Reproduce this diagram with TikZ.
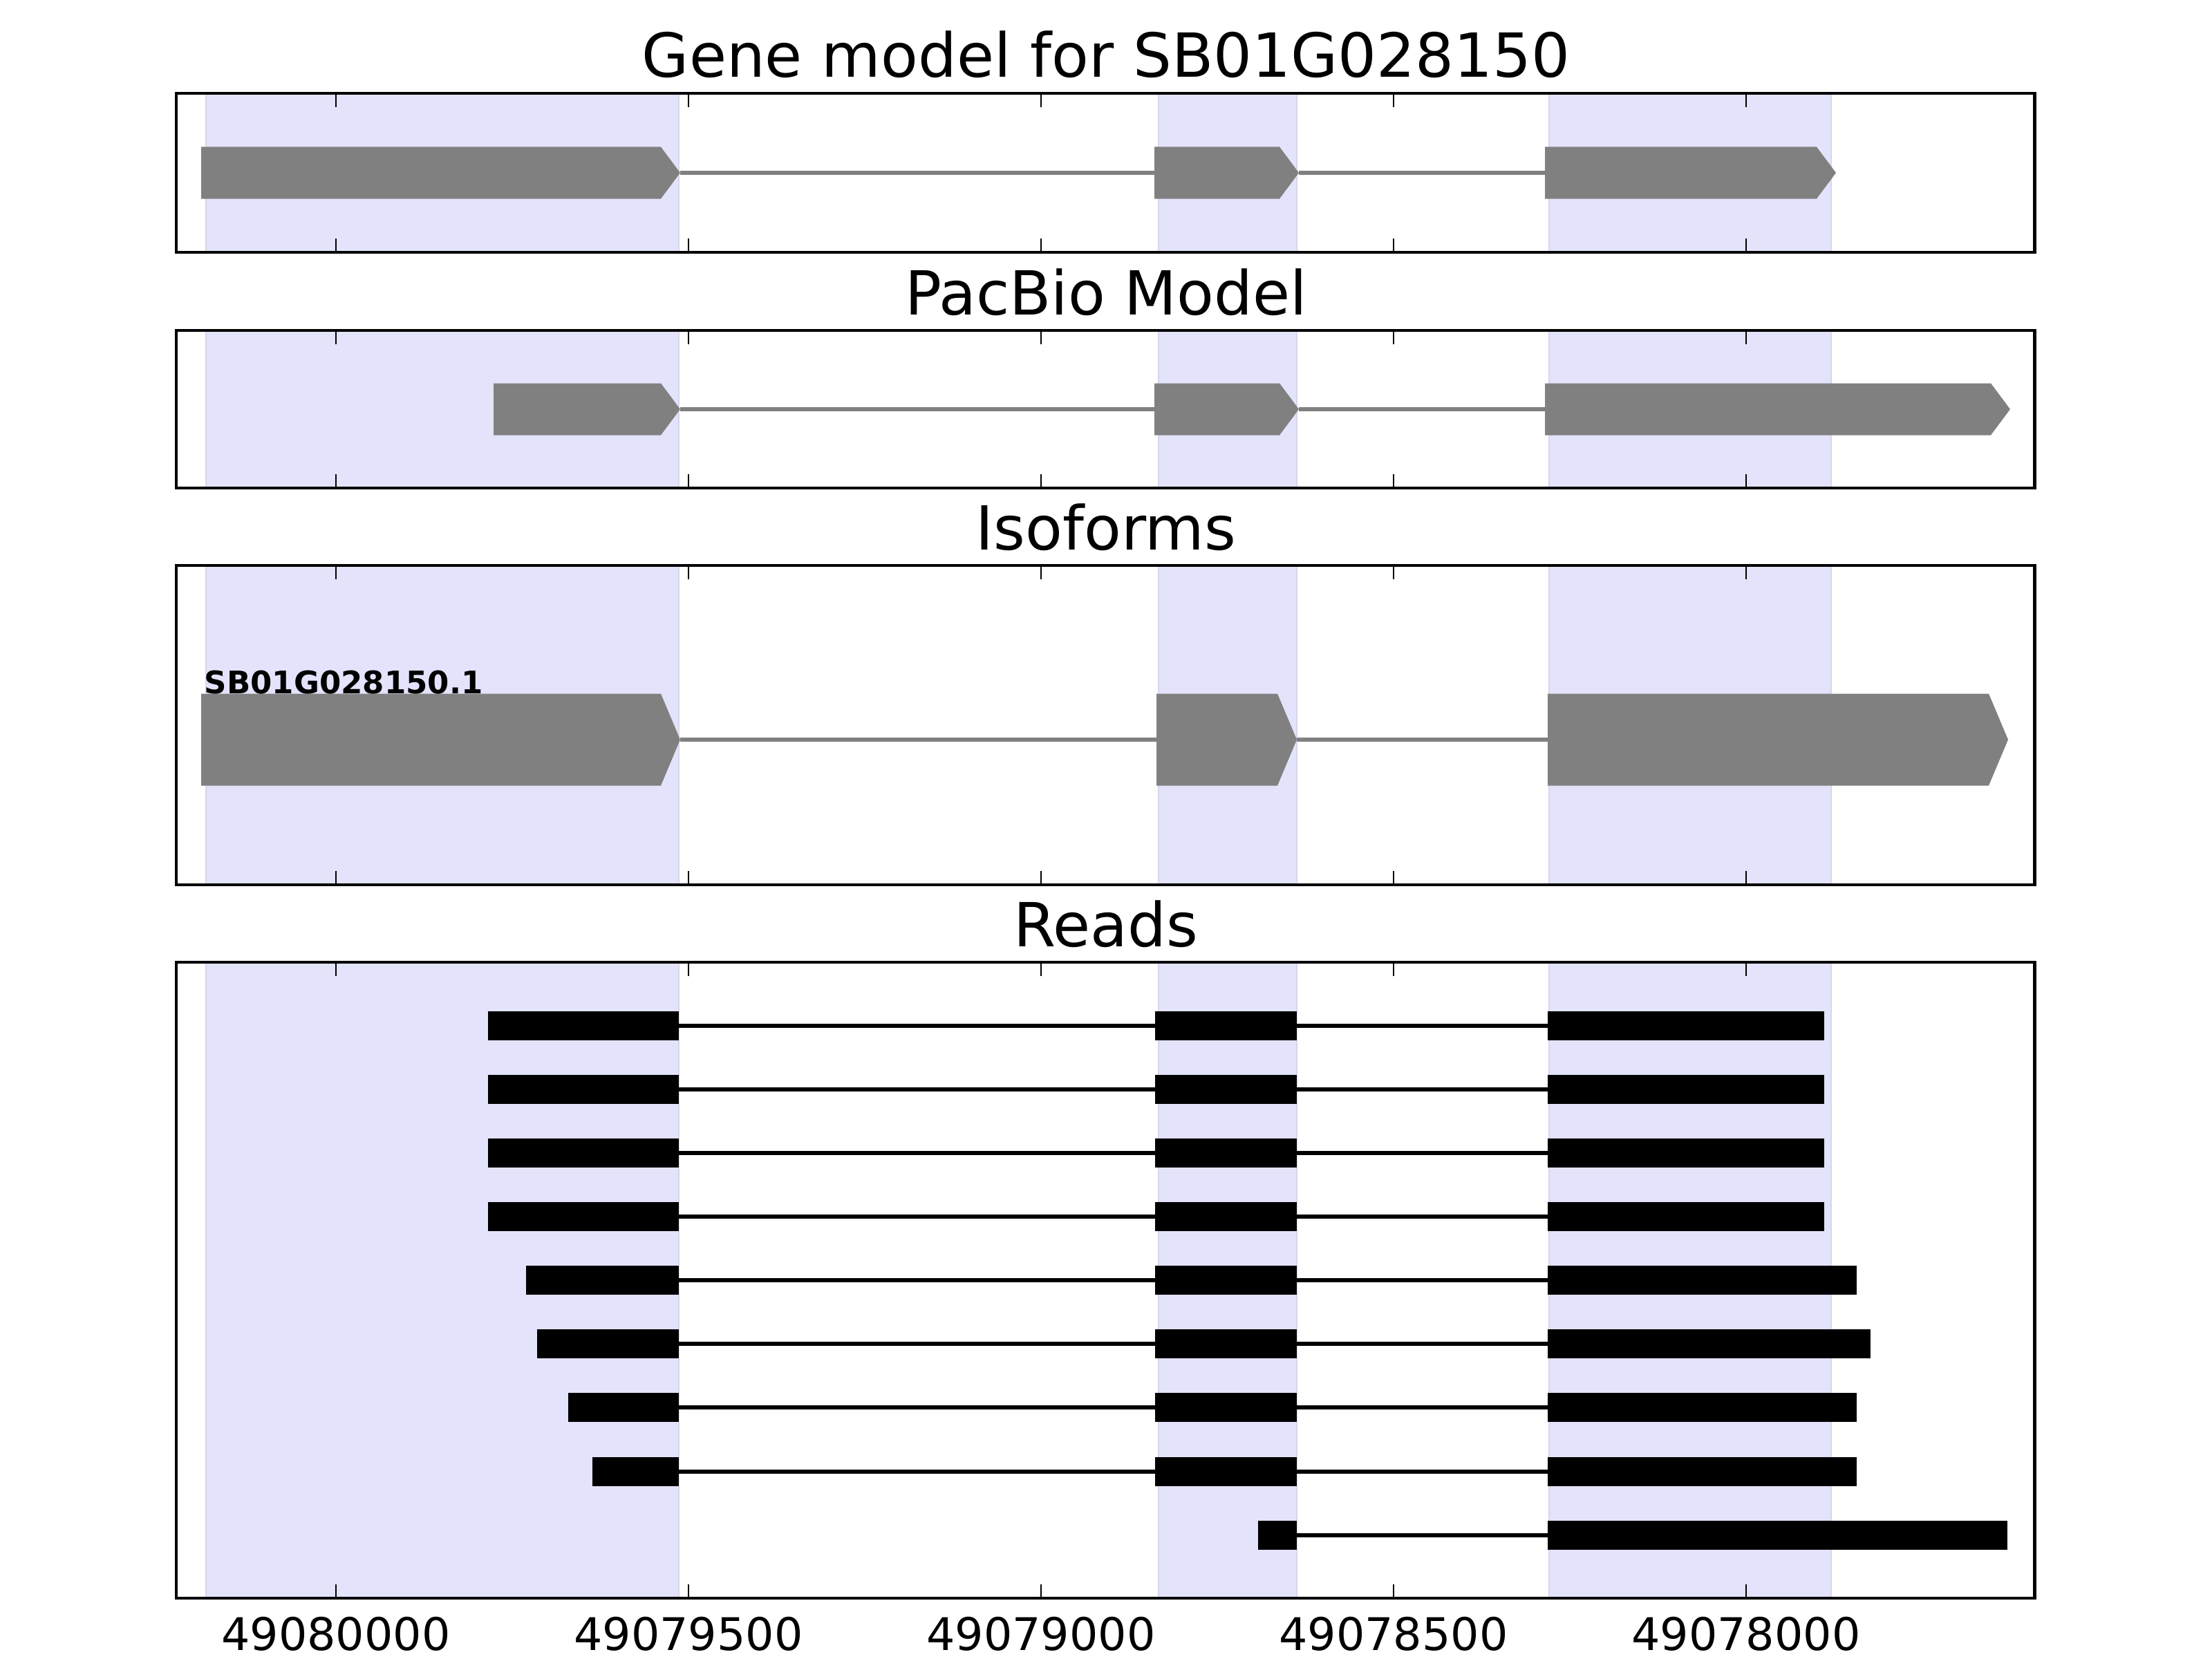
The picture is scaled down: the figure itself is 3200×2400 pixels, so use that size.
\documentclass[tikz,border=0pt]{standalone}
\usepackage{fontspec}
\setmainfont{DejaVu Sans}
\definecolor{bandblue}{RGB}{227,227,252}
\definecolor{bandedge}{RGB}{214,214,236}
\definecolor{exongray}{RGB}{128,128,128}
\tikzset{
  frame/.style={line width=1.4pt},
  band/.style={fill=bandblue, draw=bandedge, line width=0.6pt},
  intron/.style={exongray, line width=1.8pt},
  readline/.style={black, line width=1.7pt},
  tickmark/.style={line width=0.7pt},
  title/.style={anchor=base, inner sep=0pt, font=\fontsize{25}{30}\selectfont},
  ticklabel/.style={anchor=base, inner sep=0pt, font=\fontsize{18.5}{22}\selectfont},
  isolabel/.style={anchor=base west, inner sep=0pt, font=\bfseries\fontsize{12.8}{15}\selectfont},
}
\newcommand{\exonarrow}[5]{%
  \fill[exongray] (#2,#4-#5) -- (#3-28,#4-#5) -- (#3,#4) -- (#3-28,#4+#5) -- (#2,#4+#5) -- cycle;
  \coordinate (#1l) at (#2,#4);
  \coordinate (#1r) at (#3,#4);
}
\newcommand{\readexon}[4]{%
  \fill[black] (#2,#4-21) rectangle (#3,#4+21);
  \coordinate (#1l) at (#2,#4);
  \coordinate (#1r) at (#3,#4);
}
\begin{document}
\begin{tikzpicture}[x=0.01cm, y=-0.01cm]
\useasboundingbox (0,0) rectangle (3200,2400);
\foreach \top/\bot in {135/365, 478/706, 818/1280, 1392/2312}
  \foreach \a/\b in {298/982, 1676/1876, 2241/2649}
    \filldraw[band] (\a,\top) rectangle (\b,\bot);

\exonarrow{ga}{291}{984}{250}{37.5}
\exonarrow{gb}{1670}{1879}{250}{37.5}
\exonarrow{gc}{2235}{2656}{250}{37.5}
\draw[intron] (gar) -- (gbl);
\draw[intron] (gbr) -- (gcl);

\exonarrow{pa}{714}{984}{592}{37.5}
\exonarrow{pb}{1670}{1879}{592}{37.5}
\exonarrow{pc}{2235}{2908}{592}{37.5}
\draw[intron] (par) -- (pbl);
\draw[intron] (pbr) -- (pcl);

\exonarrow{ia}{291}{984}{1070}{66.5}
\exonarrow{ib}{1673}{1876}{1070}{66.5}
\exonarrow{ic}{2239}{2905}{1070}{66.5}
\draw[intron] (iar) -- (ibl);
\draw[intron] (ibr) -- (icl);
\node[isolabel] (iso) at (295,1003) {SB01G028150.1};

\foreach \n/\y/\s/\e in {1/1484/706/2639, 2/1576/706/2639, 3/1668/706/2639, 4/1760/706/2639,
    5/1852/761/2686, 6/1944/777/2706, 7/2036/822/2686, 8/2129/857/2686} {
  \readexon{ra\n}{\s}{982}{\y}
  \readexon{rb\n}{1671}{1876}{\y}
  \readexon{rc\n}{2239}{\e}{\y}
  \draw[readline] (ra\n r) -- (rb\n l);
  \draw[readline] (rb\n r) -- (rc\n l);
}
\readexon{rb9}{1820}{1876}{2221}
\readexon{rc9}{2239}{2904}{2221}
\draw[readline] (rb9r) -- (rc9l);

\foreach \top/\bot in {135/365, 478/706, 818/1280, 1392/2312} {
  \foreach \x in {486,996,1506,2016,2526} {
    \draw[tickmark] (\x,\top) -- (\x,\top+20);
    \draw[tickmark] (\x,\bot) -- (\x,\bot-20);
  }
  \draw[frame] (255,\top) rectangle (2943,\bot);
}

\node[title] (t1) at (1600,112) {Gene model for SB01G028150};
\node[title] (t2) at (1600,455) {PacBio Model};
\node[title] (t3) at (1600,795) {Isoforms};
\node[title] (t4) at (1600,1369) {Reads};

\foreach \x/\lbl in {486/49080000, 996/49079500, 1506/49079000, 2016/49078500, 2526/49078000}
  \node[ticklabel] (lab\lbl) at (\x,2387) {\lbl};
\end{tikzpicture}
\end{document}
